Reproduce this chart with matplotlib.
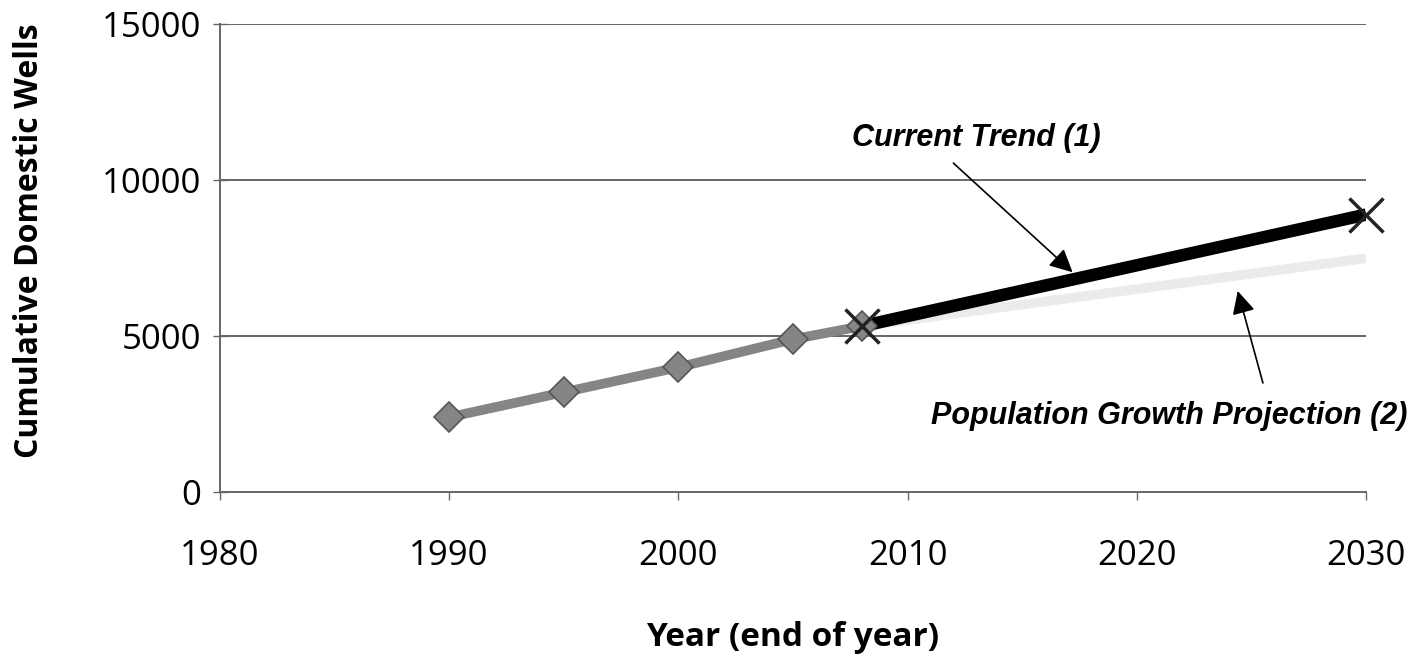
import numpy as np
import matplotlib
matplotlib.use("Agg")
import matplotlib.pyplot as plt

# ---- DATA ----
hist_years = [1990, 1995, 2000, 2005, 2008]
hist_wells = [2400, 3200, 4000, 4900, 5320]

trend_years = [2008, 2030]
trend_wells = [5320, 8900]

pop_years = [2008, 2030]
pop_wells = [5320, 7500]

x_ticks = [1980, 1990, 2000, 2010, 2020, 2030]
y_ticks = [0, 5000, 10000, 15000]

label_font = "Open Sans"
note_font = "Liberation Sans"

# ---- PLOT ----
fig = plt.figure(figsize=(14.26, 6.57), dpi=100)
ax = fig.add_axes([0.154, 0.251, 0.804, 0.712])

# grid lines (horizontal only)
for yv in y_ticks[1:]:
    ax.axhline(yv, color="#666666", lw=1.4, zorder=1)

# population growth projection (very faint)
ax.plot(pop_years, pop_wells, color="#ebebeb", lw=7, solid_capstyle="butt", zorder=2)

# current trend
ax.plot(trend_years, trend_wells, color="black", lw=9, solid_capstyle="butt", zorder=3)
ax.plot(trend_years, trend_wells, ls="none", marker="x", ms=24, mew=2.5,
        color="#222222", zorder=5, clip_on=False)

# historical
ax.plot(hist_years, hist_wells, color="#858585", lw=7, zorder=4,
        marker="D", ms=15, mfc="#858585", mec="#555555", mew=1.2)

ax.set_xlim(1980, 2030)
ax.set_ylim(0, 15000)
ax.set_xticks(x_ticks)
ax.set_yticks(y_ticks)
ax.set_xticklabels([str(v) for v in x_ticks], fontfamily=label_font, fontsize=25)
ax.set_yticklabels([str(v) for v in y_ticks], fontfamily=label_font, fontsize=25)
ax.tick_params(axis="x", direction="out", length=6, width=1, color="#666666", pad=28)
ax.tick_params(axis="y", direction="inout", length=10, width=1, color="#666666", pad=8)

for s in ["top", "right"]:
    ax.spines[s].set_visible(False)
for s in ["left", "bottom"]:
    ax.spines[s].set_color("#666666")
    ax.spines[s].set_linewidth(1.4)

ax.set_xlabel("Year (end of year)", fontfamily=label_font, fontsize=24,
              fontweight="bold", labelpad=34)
ax.set_ylabel("Cumulative Domestic Wells", fontfamily=label_font, fontsize=23,
              fontweight="bold", va="center")
ax.yaxis.set_label_coords(-0.166, 0.538)

# annotations
note_kw = dict(ha="center", va="center", fontfamily=note_font, fontsize=22,
               fontweight="bold", fontstyle="italic")
arrow_kw = dict(arrowstyle="-|>", color="black", lw=1.2,
                mutation_scale=35, shrinkA=0, shrinkB=0)

ax.text(2013.0, 11350, "Current Trend (1)", **note_kw)
ax.annotate("", xy=(2017.2, 7050), xytext=(2012.0, 10550), arrowprops=arrow_kw)

ax.text(2021.4, 2450, "Population Growth Projection (2)", clip_on=False, **note_kw)
ax.annotate("", xy=(2024.4, 6450), xytext=(2025.5, 3500), arrowprops=arrow_kw)

fig.savefig("out.png", dpi=100, facecolor="white")
